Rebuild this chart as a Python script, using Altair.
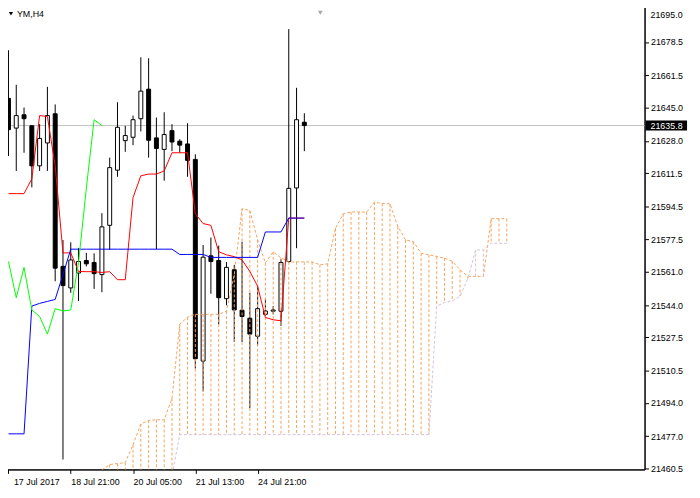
import altair as alt
import pandas as pd

# ---------------- data ----------------
bar_idx = list(range(39))
opens = [21649.7, 21634.5, 21641.3, 21635.7, 21615.2, 21626.9, 21641.8, 21563.8, 21552.8, 21560.4,
         21566.8, 21565.8, 21559.6, 21584.8, 21613.0, 21628.1, 21629.8, 21639.3, 21654.4, 21629.5,
         21623.6, 21633.2, 21627.8, 21626.4, 21618.5, 21515.4, 21569.2, 21566.8, 21547.3, 21562.1,
         21541.4, 21537.3, 21528.1, 21539.3, 21540.9, 21540.9, 21566.3, 21603.9, 21637.5]
highs = [21674.3, 21656.6, 21645.0, 21635.9, 21636.5, 21655.6, 21646.6, 21577.3, 21576.1, 21573.1,
         21570.7, 21570.5, 21591.0, 21619.4, 21647.7, 21635.7, 21640.9, 21670.7, 21670.2, 21639.9,
         21642.6, 21636.5, 21628.8, 21637.0, 21621.1, 21574.7, 21578.6, 21574.4, 21566.0, 21564.6,
         21576.4, 21550.3, 21553.7, 21547.3, 21543.5, 21567.5, 21685.1, 21655.1, 21642.1]
lows = [21620.2, 21612.6, 21621.9, 21604.2, 21612.6, 21612.6, 21556.2, 21465.1, 21550.3, 21546.1,
        21563.8, 21552.3, 21550.6, 21572.2, 21609.6, 21622.4, 21625.8, 21632.8, 21619.4, 21572.6,
        21607.6, 21622.7, 21621.9, 21609.6, 21511.6, 21499.9, 21549.8, 21534.3, 21543.9, 21525.2,
        21525.2, 21491.3, 21523.3, 21538.5, 21539.3, 21533.4, 21565.6, 21573.1, 21622.7]
closes = [21633.7, 21640.9, 21639.3, 21615.2, 21629.2, 21640.9, 21562.9, 21554.0, 21567.1, 21566.3,
          21565.1, 21560.1, 21584.0, 21614.3, 21634.9, 21630.7, 21638.8, 21653.4, 21628.3, 21624.1,
          21631.2, 21627.4, 21625.8, 21618.0, 21516.6, 21568.5, 21566.3, 21547.8, 21563.3, 21541.5,
          21538.2, 21529.2, 21542.2, 21541.0, 21541.5, 21565.8, 21603.7, 21638.8, 21635.8]

tenkan = [21601.0, 21601.0, 21601.0, 21608.6, 21640.9, 21640.4, 21615.2, 21570.7, 21570.7, 21561.2,
          21561.1, 21561.1, 21560.7, 21561.1, 21557.0, 21557.0, 21599.0, 21610.1, 21611.0, 21611.0,
          21612.6, 21621.9, 21621.9, 21621.9, 21590.7, 21585.7, 21584.8, 21571.3, 21569.7, 21568.8,
          21567.1, 21561.2, 21553.7, 21537.7, 21536.5, 21536.0, 21588.5, 21588.5, 21588.5]
kijun = [21478.2, 21478.2, 21478.2, 21543.5, 21544.9, 21545.9, 21546.9, 21559.6,
         21572.6, 21572.6, 21572.6, 21572.6, 21572.6, 21572.6, 21572.6, 21572.6, 21572.6, 21572.6,
         21572.6, 21572.6, 21572.6, 21572.6,
         21569.9, 21569.9, 21569.9, 21569.9,
         21568.4, 21568.4, 21568.4, 21568.4, 21568.4, 21568.4, 21568.4,
         21581.4, 21581.4, 21581.4,
         21588.5, 21588.5, 21588.5]
chikou_idx = list(range(13))
chikou = [21566.3, 21547.8, 21563.3, 21541.5, 21538.2, 21529.2, 21542.2, 21541.0, 21541.5,
          21565.8, 21603.7, 21638.8, 21635.8]

span_idx = list(range(12, 65))
span_a = [21459.7, 21462.5, 21463.0, 21463.5, 21472.6, 21483.2, 21485.1, 21485.4, 21485.4, 21496.4,
          21534.3, 21537.8, 21539.3, 21539.3, 21539.3, 21539.3, 21540.9, 21559.6, 21593.3, 21592.4,
          21577.3, 21565.6, 21571.2, 21568.2, 21566.1, 21566.1, 21566.1, 21566.1, 21564.6, 21565.1,
          21583.3, 21590.7, 21591.6, 21591.6, 21591.6, 21596.6, 21596.0, 21595.8, 21584.3, 21577.3,
          21576.4, 21570.5, 21569.7, 21568.9, 21568.0, 21566.4, 21562.1, 21558.7, 21558.7, 21558.7,
          21588.2, 21588.2, 21588.2]
span_b = [21450.0, 21450.0, 21450.0, 21450.0, 21450.0, 21450.0, 21450.0, 21450.0, 21450.0, 21457.0,
          21477.8, 21477.8, 21477.8, 21477.8, 21477.8, 21477.8, 21477.8, 21477.8, 21477.8, 21477.8,
          21477.8, 21477.8, 21477.8, 21477.8, 21477.8, 21477.8, 21477.8, 21477.8, 21477.8, 21477.8,
          21477.8, 21477.8, 21477.8, 21477.8, 21477.8, 21477.8, 21477.8, 21477.8, 21477.8, 21477.8,
          21477.8, 21477.8, 21477.8, 21543.5, 21545.3, 21546.1, 21548.6, 21557.5, 21572.2, 21572.2,
          21575.6, 21575.6, 21575.6]

x_tick_idx = [0, 8, 16, 24, 32]
x_tick_labels = ["17 Jul 2017", "18 Jul 21:00", "20 Jul 05:00", "21 Jul 13:00", "24 Jul 21:00"]
y_ticks = [21460.5, 21477.0, 21494.0, 21510.5, 21527.5, 21544.0, 21561.0, 21577.5,
           21594.5, 21611.5, 21628.0, 21645.0, 21661.5, 21678.5]
y_top_tick = 21695.0
last_price = 21635.8
symbol_label = "YM,H4"

# ---------------- tables ----------------
candles = pd.DataFrame({"i": bar_idx, "o": opens, "h": highs, "l": lows, "c": closes})
candles["lo"] = candles[["o", "c"]].min(axis=1)
candles["hi"] = candles[["o", "c"]].max(axis=1)
lines = pd.DataFrame({"i": bar_idx, "tenkan": tenkan, "kijun": kijun})
chik = pd.DataFrame({"i": chikou_idx, "v": chikou})
cloud = pd.DataFrame({"i": span_idx, "a": span_a, "b": span_b})
price_df = pd.DataFrame({"p": [last_price], "label": [f"{last_price:.1f}"]})
top_df = pd.DataFrame({"p": [y_top_tick], "label": [f"{y_top_tick:.1f}"]})
title_df = pd.DataFrame({"t": [symbol_label]})

FONT = "Liberation Sans"
xscale = alt.Scale(domain=[-0.1875, 81.0625], nice=False, zero=False)
yscale = alt.Scale(domain=[21460.0, 21697.5], nice=False, zero=False)

label_expr = "''"
for idx, lab in reversed(list(zip(x_tick_idx, x_tick_labels))):
    label_expr = f"datum.value == {idx} ? '{lab}' : {label_expr}"

xaxis = alt.Axis(values=x_tick_idx, labelExpr=label_expr, labelAlign="left", labelBaseline="top",
                 labelPadding=4, tickSize=4, labelOverlap=False, labelFlush=False, title="",
                 orient="bottom", grid=False,
                 labelOffset={"condition": {"test": "datum.value == 0", "value": 5}, "value": 0})
yaxis = alt.Axis(values=y_ticks, format=".1f", orient="right", tickSize=4, labelPadding=2,
                 labelBaseline="middle", labelOverlap=False, title="", grid=False)


def X(field="i"):
    return alt.X(f"{field}:Q", scale=xscale, axis=xaxis)


def Y(field):
    return alt.Y(f"{field}:Q", scale=yscale, axis=yaxis)


price_line = alt.Chart(price_df).mark_rule(color="#C0C0C0", strokeWidth=1).encode(y=Y("p"))

wicks = alt.Chart(candles).mark_rule(color="black", strokeWidth=1).encode(
    x=X(), y=Y("l"), y2="h")

bodies = alt.Chart(candles).mark_bar(size=4, stroke="black", strokeWidth=1).encode(
    x=X(), y=Y("lo"), y2="hi",
    fill=alt.condition("datum.c >= datum.o", alt.value("white"), alt.value("black")))

hatch = alt.Chart(cloud).mark_rule(strokeDash=[3, 2], strokeWidth=1, clip=True).encode(
    x=X(), y=Y("a"), y2="b",
    color=alt.condition("datum.a >= datum.b", alt.value("#F4A460"), alt.value("#D8BFD8")))

span_a_line = alt.Chart(cloud).mark_line(color="#F4A460", strokeDash=[3, 2], strokeWidth=1,
                                         clip=True).encode(x=X(), y=Y("a"))
span_b_line = alt.Chart(cloud).mark_line(color="#D8BFD8", strokeDash=[3, 2], strokeWidth=1,
                                         clip=True).encode(x=X(), y=Y("b"))

tenkan_line = alt.Chart(lines).mark_line(color="#FF0000", strokeWidth=1).encode(x=X(), y=Y("tenkan"))
kijun_line = alt.Chart(lines).mark_line(color="#0000FF", strokeWidth=1).encode(x=X(), y=Y("kijun"))
chikou_line = alt.Chart(chik).mark_line(color="#00FF00", strokeWidth=1).encode(x=X(), y=Y("v"))

title_tri = alt.Chart(title_df).mark_point(shape="triangle-down", filled=True, color="black",
                                           size=18, opacity=1).encode(
    x=alt.value(9), y=alt.value(9))
title_txt = alt.Chart(title_df).mark_text(align="left", baseline="middle", font=FONT,
                                          fontSize=9, color="black").encode(
    x=alt.value(15), y=alt.value(9), text="t:N")
shift_tri = alt.Chart(title_df).mark_point(shape="triangle-down", filled=True, color="#A8A8A8",
                                           size=24, opacity=1).encode(
    x=alt.value(322), y=alt.value(8))

# top tick label, nudged down a little so it stays inside the page
top_label = alt.Chart(top_df).mark_text(align="left", baseline="middle", font=FONT, fontSize=9,
                                        color="black", dy=5).encode(
    x=alt.value(656), y=Y("p"), text="label:N")

price_box = alt.Chart(price_df).mark_rect(color="black", yOffset=-5, y2Offset=5).encode(
    x=alt.value(651), x2=alt.value(693), y=Y("p"), y2="p")
price_txt = alt.Chart(price_df).mark_text(align="left", baseline="middle", font=FONT, fontSize=9,
                                          color="white").encode(
    x=alt.value(656), y=Y("p"), text="label:N")

chart = alt.layer(
    price_line, wicks, bodies, hatch, span_a_line, span_b_line,
    tenkan_line, kijun_line, chikou_line,
    title_tri, title_txt, shift_tri, top_label, price_box, price_txt
).properties(
    width=650, height=470,
    padding={"left": -6, "top": -6, "right": 48, "bottom": 20},
    autosize=alt.AutoSizeParams(type="none"),
    background="white",
).configure_axis(
    labelFont=FONT, labelFontSize=9, labelColor="black", domainColor="black",
    tickColor="black", grid=False
).configure_view(stroke="black")

chart.save("out.html", embed_options={"renderer": "svg", "actions": False})
